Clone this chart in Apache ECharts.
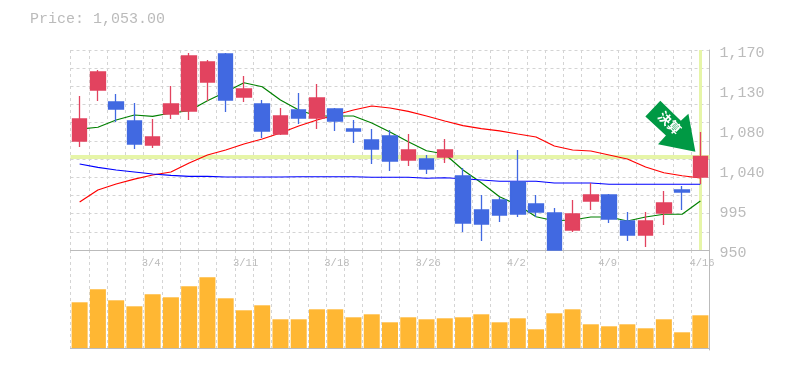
<!DOCTYPE html>
<html>
<head>
<meta charset="utf-8">
<style>
  html, body { margin: 0; padding: 0; background: #fff; }
  #chart { width: 785px; height: 370px; }
</style>
<script src="https://cdn.jsdelivr.net/npm/echarts@6/dist/echarts.min.js"></script>
</head>
<body>
<div id="chart"></div>
<script>
const dates = ['2/27','2/28','2/29','3/1','3/4','3/5','3/6','3/7','3/8','3/11','3/12','3/13','3/14','3/15','3/18','3/19','3/21','3/22','3/25','3/26','3/27','3/28','3/29','4/1','4/2','4/3','4/4','4/5','4/8','4/9','4/10','4/11','4/12','4/15','4/16'];

// [open, close, low, high]
const candles = [
  [1069.9,1094.1,1063.3,1119.4],
  [1126,1145.8,1113.9,1148],
  [1112.8,1105.1,1090.8,1121.6],
  [1091.9,1066.6,1061.1,1111.7],
  [1065.5,1074.3,1062.2,1094.1],
  [1099.6,1110.6,1094.1,1130.4],
  [1102.9,1163.4,1093,1166.7],
  [1134.8,1156.8,1113.9,1159],
  [1165.6,1115,1101.8,1166.7],
  [1118.3,1127.1,1112.8,1141.4],
  [1110.6,1080.9,1073.2,1115],
  [1077.6,1097.4,1076.5,1106.2],
  [1104,1095.2,1088.6,1122.7],
  [1095.2,1117.2,1083.1,1132.6],
  [1105.1,1091.9,1080.9,1106.2],
  [1083.1,1080.9,1067.7,1093],
  [1071,1061.1,1044.6,1083.1],
  [1075.4,1047.9,1036.9,1082],
  [1049,1060,1042.4,1077.6],
  [1050.1,1039.1,1033.6,1054.5],
  [1052.3,1060,1045.7,1072.1],
  [1031.4,979.7,969.8,1040.2],
  [994,978.6,959.9,1010.5],
  [1005,988.5,980.8,1008.3],
  [1024.8,989.6,986.3,1060],
  [1000.6,991.8,986.3,1010.5],
  [990.7,950,950,996.2],
  [972,989.6,969.8,1005],
  [1003.9,1010.5,994,1023.7],
  [1010.5,984.1,979.7,1011.6],
  [981.9,966.5,959.9,991.8],
  [966.5,981.9,953.3,991.8],
  [990.7,1001.7,977.5,1014.9],
  [1016,1013.8,994,1020.4],
  [1030.3,1053,1022.6,1079.8]
];

const maShort = [1083,1085,1093,1098.5,1097,1100.7,1103.2,1114.2,1123.8,1134,1129.6,1115,1104,1097.4,1097.4,1097.4,1089.7,1079.8,1069.1,1059.2,1055.6,1038,1024,1008.6,999.5,986.6,982.2,983,986.3,986.3,981.9,986.3,989.3,989.3,1003.9];
const maMid = [1002.8,1016,1022.6,1028,1032.5,1035.8,1045.7,1054.5,1060,1066.6,1072.1,1078.7,1086.4,1093,1098.5,1104,1108.4,1106.2,1102.4,1097.4,1091.9,1086.9,1083.6,1081,1077.6,1074.3,1064.4,1060,1058.9,1054.5,1050.1,1041.3,1035,1031.7,1029.2];
const maLong = [1044.6,1040.8,1038,1035.8,1033.6,1032,1030.9,1030.9,1030.3,1030.3,1030.3,1030.3,1030.6,1030.6,1030.6,1030.6,1030,1030,1030,1028.9,1029.5,1028.4,1027,1025.6,1025.6,1025.6,1023.7,1023.7,1023.7,1022.3,1022.3,1022.3,1022.3,1022.3,1022.3];
const volume = [45.7,58.7,47.7,41.7,53.7,50.7,61.7,70.7,49.7,37.7,42.7,28.7,28.7,38.7,38.7,30.7,33.7,25.7,30.7,28.7,29.7,30.7,33.7,25.7,29.7,18.7,34.7,38.7,23.7,21.7,23.7,19.7,28.7,15.7,32.7];

const lastPrice = 1053;
const priceGridValues = [950,970,990,1010,1030,1050,1070,1090,1110,1130,1150,1170];
const priceTickValues = [950,994,1038,1082,1126,1170];
const priceTickLabels = ['950','995','1,040','1,080','1,130','1,170'];
const dateTickIndex = [4,9,14,19,24,29,34];

const MONO = '"Liberation Mono", monospace';
const GRAY = '#bbbbbb';
const DASH = { color: '#d4d4d4', width: 1, type: [3, 3] };
const plain = { show: false };

const chart = echarts.init(document.getElementById('chart'));
chart.setOption({
  animation: false,
  backgroundColor: '#ffffff',
  title: {
    left: 25,
    top: 7,
    text: 'Price: 1,053.00',
    textStyle: { fontFamily: MONO, fontSize: 15, fontWeight: 'normal', color: GRAY }
  },
  grid: [
    { left: 70.5, top: 50, width: 639, height: 200 },
    { left: 70.5, top: 250, width: 639, height: 100 }
  ],
  xAxis: [
    {
      type: 'category', gridIndex: 0, data: dates,
      axisLine: { lineStyle: { color: GRAY } },
      axisTick: plain, axisLabel: plain,
      splitLine: { show: true, interval: 0, lineStyle: DASH }
    },
    {
      // only carries the date labels, they start on the gridline
      type: 'value', gridIndex: 0, min: 0.1, max: 35.1, position: 'bottom',
      axisLine: plain, axisTick: plain, splitLine: plain,
      axisLabel: {
        customValues: dateTickIndex,
        formatter: (v) => dates[v],
        align: 'left', margin: 8,
        fontFamily: MONO, fontSize: 10.5, color: GRAY
      }
    },
    {
      type: 'category', gridIndex: 1, data: dates,
      axisLine: { lineStyle: { color: GRAY } },
      axisTick: plain, axisLabel: plain,
      splitLine: { show: true, interval: 0, lineStyle: DASH }
    }
  ],
  yAxis: [
    {
      type: 'value', gridIndex: 0, position: 'right', min: 950, max: 1170,
      axisLine: { show: true, onZero: false, lineStyle: { color: GRAY } },
      axisTick: { show: false, customValues: priceGridValues },
      splitLine: { show: true, lineStyle: DASH },
      axisLabel: {
        customValues: priceTickValues,
        formatter: (v) => priceTickLabels[priceTickValues.indexOf(v)],
        margin: 10, verticalAlign: 'top', lineHeight: 7,
        fontFamily: MONO, fontSize: 15, color: GRAY
      }
    },
    {
      type: 'value', gridIndex: 1, position: 'right', min: -2, max: 98,
      axisLine: { show: true, onZero: false, lineStyle: { color: GRAY } },
      axisTick: plain, axisLabel: plain, splitLine: plain
    }
  ],
  series: [
    {
      name: 'last', type: 'line', xAxisIndex: 0, yAxisIndex: 0, data: [], z: 1,
      markLine: {
        z: 1, silent: true, symbol: 'none', animation: false, label: plain,
        lineStyle: { color: '#e6f5a8', width: 3, type: 'solid' },
        data: [
          { yAxis: lastPrice, lineStyle: { width: 4 } },
          { xAxis: dates[dates.length - 1] }
        ]
      }
    },
    { name: 'ma short', type: 'line', xAxisIndex: 0, yAxisIndex: 0, data: maShort, symbol: 'none', z: 2, lineStyle: { color: '#008000', width: 1.2 } },
    { name: 'ma mid', type: 'line', xAxisIndex: 0, yAxisIndex: 0, data: maMid, symbol: 'none', z: 2, lineStyle: { color: '#ff0000', width: 1.2 } },
    { name: 'ma long', type: 'line', xAxisIndex: 0, yAxisIndex: 0, data: maLong, symbol: 'none', z: 2, lineStyle: { color: '#0000ff', width: 1.2 } },
    {
      name: 'price', type: 'candlestick', xAxisIndex: 0, yAxisIndex: 0, data: candles, z: 3,
      barWidth: 15,
      itemStyle: {
        color: '#e2435f', borderColor: '#e2435f',
        color0: '#4169e1', borderColor0: '#4169e1', borderWidth: 1.3
      },
      markPoint: {
        silent: true, animation: false,
        symbol: 'path://M15 0L35.7 20L43.3 13L50.3 51L12.7 43.3L20.7 34.7L0 15.7Z',
        symbolSize: [50, 51],
        symbolOffset: [-30, -30],
        itemStyle: { color: '#009944' },
        label: {
          show: true, position: 'inside', rotate: -45, offset: [-3, -2],
          fontFamily: '"Noto Sans CJK JP"', fontSize: 13, fontWeight: 'bold', color: '#ffffff'
        },
        data: [{ coord: [dates[dates.length - 1], lastPrice], value: '決算' }]
      }
    },
    {
      name: 'volume', type: 'bar', xAxisIndex: 2, yAxisIndex: 1, data: volume,
      barWidth: 16, itemStyle: { color: '#ffb733' }
    }
  ]
});
</script>
</body>
</html>
